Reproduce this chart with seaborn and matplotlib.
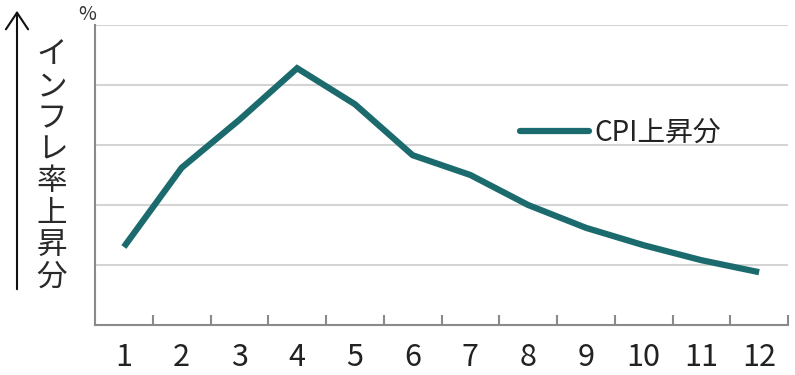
import matplotlib
matplotlib.use("Agg")
import matplotlib.pyplot as plt
import seaborn as sns
import pandas as pd
import numpy as np

months = [1, 2, 3, 4, 5, 6, 7, 8, 9, 10, 11, 12]
cpi_rise = [1.30, 2.62, 3.42, 4.28, 3.68, 2.83, 2.50, 2.00, 1.62, 1.33, 1.08, 0.88]
tick_labels = [str(m) for m in months]
series_name = "CPI上昇分"
ylabel_text = "インフレ率上昇分"

sns.set_theme(style="white")
plt.rcParams['font.family'] = ['Noto Sans CJK JP', 'DejaVu Sans']

df = pd.DataFrame({"month": months, "value": cpi_rise})

fig = plt.figure(figsize=(7.95, 3.75), dpi=100)
ax = fig.add_axes([95/795, 1 - 325/375, (788 - 95)/795, 300/375])

grid_c = "#d4d4d4"
spine_c = "#8a8a8a"
line_c = "#1b6b6e"

for yv in [1, 2, 3, 4, 5]:
    ax.axhline(yv, color=grid_c, lw=1.5, zorder=0)

sns.lineplot(data=df, x="month", y="value", ax=ax, color=line_c, lw=4.5,
             label=series_name, solid_capstyle="butt", solid_joinstyle="miter")

ax.set_xlim(0.5, 12.5)
ax.set_ylim(0, 5)
ax.set_xlabel("")
ax.set_ylabel("")
ax.set_yticks([])
ax.set_xticks(months)
ax.set_xticklabels(tick_labels, fontsize=22, color="#222222")
ax.set_xticks(np.arange(1.5, 13, 1), minor=True)
ax.tick_params(axis="x", which="major", length=0, pad=12)
ax.tick_params(axis="x", which="minor", length=7, width=1.5, color=spine_c,
               direction="in", bottom=True)

for s in ["top", "right"]:
    ax.spines[s].set_visible(False)
for s in ["left", "bottom"]:
    ax.spines[s].set_color(spine_c)
    ax.spines[s].set_linewidth(1.5)

leg = ax.legend(loc="center left", bbox_to_anchor=(0.613, 0.64), frameon=False,
                borderpad=0, borderaxespad=0, handlelength=2.5, handletextpad=0.2,
                fontsize=20)
for t in leg.get_texts():
    t.set_color("#222222")
for h in leg.get_lines():
    h.set_solid_capstyle("round")

# vertical y label
fig.text(52/795, 1 - 166/375, "\n".join(ylabel_text), ha="center", va="center",
         fontsize=22, color="#2a2a2a", linespacing=1.03)
# arrow
fig.add_artist(matplotlib.patches.FancyArrowPatch(
    (17/795, 1 - 292/375), (17/795, 1 - 8/375), transform=fig.transFigure,
    arrowstyle="->,head_length=12,head_width=8", color="#111111", lw=1.5,
    mutation_scale=1))
fig.text(87/795, 1 - 15/375, "%", ha="center", va="center", fontsize=14,
         color="#333333")

fig.savefig("out.png", dpi=100)
